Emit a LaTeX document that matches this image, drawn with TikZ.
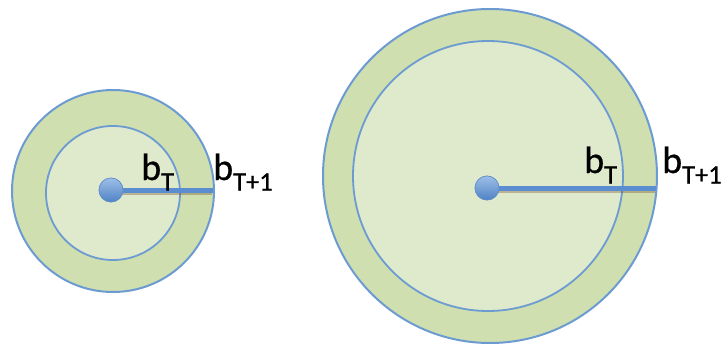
\documentclass[tikz,border=0pt]{standalone}
\usepackage{fontspec}
\setmainfont{Carlito}[FakeBold=0.6]
\definecolor{ringgreen}{HTML}{D0DFB0}
\definecolor{coregreen}{HTML}{DFE9CC}
\definecolor{edgeblue}{HTML}{6C9BD2}
\definecolor{rayblue}{HTML}{5B8ED0}
\definecolor{dottop}{HTML}{9DBFE8}
\definecolor{dotbot}{HTML}{4F82C4}
\tikzset{
  outerdisc/.style={fill=ringgreen, draw=edgeblue, line width=2pt},
  innerdisc/.style={fill=coregreen, draw=edgeblue, line width=1.8pt},
  ray/.style={draw=rayblue, line width=5pt},
  rayshadow/.style={draw=brown!60!black, line width=3pt, opacity=0.35},
  dot/.style={circle, minimum size=24pt, inner sep=0pt, top color=dottop, bottom color=dotbot, draw=dotbot!90, line width=0.6pt},
  lbl/.style={anchor=base west, inner sep=0pt, text=black}
}
\newcommand{\blabel}[1]{{\fontsize{38}{40}\selectfont b}\raisebox{-10.5pt}{\fontsize{26.5}{28}\selectfont #1}}
\begin{document}
\begin{tikzpicture}[x=1pt,y=-1pt]
\useasboundingbox (0,0) rectangle (724,348);
% left
\path[outerdisc] (113,191) circle (101);
\path[innerdisc] (113,193) circle (67);
\coordinate (lend) at (213,190);
\draw[rayshadow] (113,193) -- (212,193);
\node[dot] (ldot) at (111,190) {};
\draw[ray] (ldot.center) -- (lend);
\node[dot] at (111,190) {};
\node[lbl] (lbt) at (141,180) {\blabel{T}};
\node[lbl] (lbt1) at (213,180) {\blabel{T+1}};
% right
\path[outerdisc] (490,176) circle (167);
\path[innerdisc] (488,176) circle (135);
\coordinate (rend) at (656,188);
\draw[rayshadow] (487,191) -- (655,191);
\node[dot] (rdot) at (487,188) {};
\draw[ray] (rdot.center) -- (rend);
\node[dot] at (487,188) {};
\node[lbl] (rbt) at (584,173) {\blabel{T}};
\node[lbl] (rbt1) at (662,173) {\blabel{T+1}};
\end{tikzpicture}
\end{document}
